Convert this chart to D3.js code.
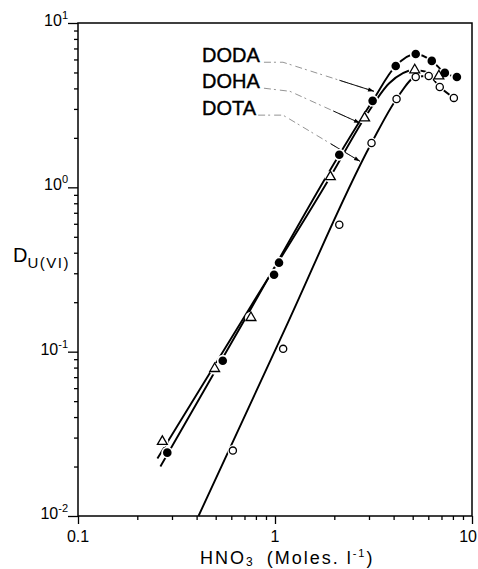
<!DOCTYPE html>
<html><head><meta charset="utf-8">
<script src="https://cdn.jsdelivr.net/npm/d3@7"></script>
<style>body{margin:0;background:#fff}svg{display:block}</style></head>
<body><svg id="c" width="478" height="569"></svg>
<script>
// ---- data ----
const seriesNames = ["DODA","DOHA","DOTA"];
const dodaX = [0.284,0.543,0.989,1.048,2.12,3.13,4.10,5.18,6.25,7.28,8.38];
const dodaY = [0.0243,0.0881,0.294,0.348,1.58,3.36,5.48,6.48,5.88,4.97,4.69];
const dohaX = [0.268,0.494,0.755,1.91,2.85,5.12,6.79];
const dohaY = [0.0284,0.0788,0.161,1.16,2.64,5.18,4.76];
const dotaX = [0.611,1.10,2.12,3.09,4.14,5.18,6.03,6.86,8.09];
const dotaY = [0.025,0.104,0.592,1.86,3.45,4.69,4.76,4.08,3.50];
// drawn (fitted) curves
const dodaFitX = [0.262,0.75,2.12,3.13,4.10,5.18,6.25,7.28,8.38];
const dodaFitY = [0.020,0.18,1.58,3.36,5.48,6.48,5.88,4.97,4.69];
const dohaFitX = [0.253,0.75,1.91,2.85,3.8,5.12,6.79];
const dohaFitY = [0.0224,0.187,1.16,2.64,4.3,5.18,4.76];
const dotaFitX = [0.409,1.12,3.09,4.14,5.18,6.03,6.86,8.09];
const dotaFitY = [0.01,0.136,1.86,3.45,4.69,4.76,4.08,3.50];
// ticks
const xMajor = [0.1,1,10];
const xTickLabels = ["0.1","1","10"];
const yMajor = [0.01,0.1,1,10];
const yTickExps = ["-2","-1","0","1"];

// ---- chart ----
const svg = d3.select("#c");
const FONT = "'Liberation Sans', Arial, sans-serif";
const x = d3.scaleLog().domain([0.1,10]).range([78,472]);
const y = d3.scaleLog().domain([0.01,10]).range([516,23]);

const minors = (lo,hi)=>{const a=[];for(let d=lo;d<hi;d*=10)for(let k=2;k<=9;k++)a.push(+(k*d).toPrecision(3));return a;};
const xMinor = minors(0.1,10), yMinor = minors(0.01,10);

function styleAxis(g){g.select(".domain").remove();g.selectAll("line").attr("stroke","#000").attr("stroke-width",1.3);g.selectAll("text").remove();}
svg.append("g").attr("transform","translate(0,516)").call(d3.axisBottom(x).tickValues(xMajor).tickSize(8)).call(styleAxis);
svg.append("g").attr("transform","translate(0,516)").call(d3.axisBottom(x).tickValues(xMinor).tickSize(4)).call(styleAxis);
svg.append("g").attr("transform","translate(78,0)").call(d3.axisLeft(y).tickValues(yMajor).tickSize(10)).call(styleAxis);
svg.append("g").attr("transform","translate(78,0)").call(d3.axisLeft(y).tickValues(yMinor).tickSize(4)).call(styleAxis);

// frame
svg.append("rect").attr("x",x(0.1)).attr("y",y(10)).attr("width",x(10)-x(0.1)).attr("height",y(0.01)-y(10))
  .attr("fill","none").attr("stroke","#000").attr("stroke-width",1.5);

// tick labels
svg.selectAll(".xl").data(xMajor).join("text")
  .attr("x",(d,i)=>i===xMajor.length-1 ? 477 : x(d)).attr("y",542)
  .attr("text-anchor",(d,i)=>i===xMajor.length-1 ? "end" : "middle")
  .attr("font-family",FONT).attr("font-size",16).text((d,i)=>xTickLabels[i]);
const yl = svg.selectAll(".yl").data(yMajor).join("text").attr("x",68).attr("y",d=>y(d)+3)
  .attr("text-anchor","end").attr("font-family",FONT).attr("font-size",16);
yl.append("tspan").text("10");
yl.append("tspan").attr("font-size",11).attr("dy",-7).text((d,i)=>yTickExps[i]);

// axis titles
const yt = svg.append("text").attr("x",13).attr("y",262).attr("font-family",FONT).attr("font-size",20);
yt.append("tspan").text("D");
yt.append("tspan").attr("font-size",15).attr("dy",6).attr("letter-spacing",1.5).text("U(VI)");
const xt = svg.append("text").attr("x",200).attr("y",564).attr("font-family",FONT).attr("font-size",18).attr("letter-spacing",2);
xt.append("tspan").text("HNO");
xt.append("tspan").attr("font-size",12).attr("dy",2).text("3");
xt.append("tspan").attr("dy",-2).attr("dx",12).text("(Moles. l");
xt.append("tspan").attr("font-size",11).attr("dy",-7).text("-1");
xt.append("tspan").attr("dy",7).text(")");

// curves
const line = d3.line().x(d=>x(d[0])).y(d=>y(d[1])).curve(d3.curveMonotoneX);
const zip=(a,b)=>a.map((v,i)=>[v,b[i]]);
[[dodaFitX,dodaFitY],[dohaFitX,dohaFitY],[dotaFitX,dotaFitY]].forEach(([a,b])=>{
  svg.append("path").attr("d",line(zip(a,b))).attr("fill","none").attr("stroke","#000").attr("stroke-width",1.9);
});

// leader lines (anchors in data units)
const labelX = 0.426;
const labelY = [5.77,4.01,2.75];
const leaders = [
  [[0.879,5.77],[1.098,5.77],[3.18,3.84]],
  [[0.879,4.01],[1.19,3.84],[2.70,2.46]],
  [[0.821,2.75],[1.098,2.75],[2.70,1.44]]
];
leaders.forEach(pts=>{
  const p = pts.map(d=>[x(d[0]),y(d[1])]);
  svg.append("path").attr("d",d3.line()(p)).attr("fill","none").attr("stroke","#888")
    .attr("stroke-width",0.9).attr("stroke-dasharray","7,3,2,4");
  const a=p[1], b=p[2], t=0.62;
  const m=[a[0]+(b[0]-a[0])*t, a[1]+(b[1]-a[1])*t];
  svg.append("path").attr("d",d3.line()([m,b])).attr("stroke","#111").attr("stroke-width",1);
  const ang=Math.atan2(b[1]-a[1],b[0]-a[0]);
  const L=6,W=2;
  const tri=[[b[0],b[1]],[b[0]-L*Math.cos(ang)-W*Math.sin(ang),b[1]-L*Math.sin(ang)+W*Math.cos(ang)],[b[0]-L*Math.cos(ang)+W*Math.sin(ang),b[1]-L*Math.sin(ang)-W*Math.cos(ang)]];
  svg.append("path").attr("d",d3.line()(tri)+"Z").attr("fill","#000");
});
svg.selectAll(".lab").data(seriesNames).join("text").attr("x",x(labelX)).attr("y",(d,i)=>y(labelY[i]))
  .attr("font-family",FONT).attr("font-size",20).attr("stroke","#000").attr("stroke-width",0.4).text(d=>d);

// markers
const halo = (pts,r)=>svg.append("g").selectAll("circle").data(pts).join("circle")
  .attr("cx",d=>x(d[0])).attr("cy",d=>y(d[1])).attr("r",r).attr("fill","#fff");
const doda = zip(dodaX,dodaY), doha = zip(dohaX,dohaY), dota = zip(dotaX,dotaY);
halo(doda,6); halo(doha,6); halo(dota,5.5);
svg.append("g").selectAll("circle").data(dota).join("circle")
  .attr("cx",d=>x(d[0])).attr("cy",d=>y(d[1])).attr("r",3.6).attr("fill","#fff").attr("stroke","#000").attr("stroke-width",1.3);
svg.append("g").selectAll("path").data(doha).join("path")
  .attr("transform",d=>`translate(${x(d[0])},${y(d[1])})`)
  .attr("d",d3.symbol(d3.symbolTriangle,42)).attr("fill","#fff").attr("stroke","#000").attr("stroke-width",1.3);
svg.append("g").selectAll("circle").data(doda).join("circle")
  .attr("cx",d=>x(d[0])).attr("cy",d=>y(d[1])).attr("r",4.3).attr("fill","#000");
</script></body></html>
